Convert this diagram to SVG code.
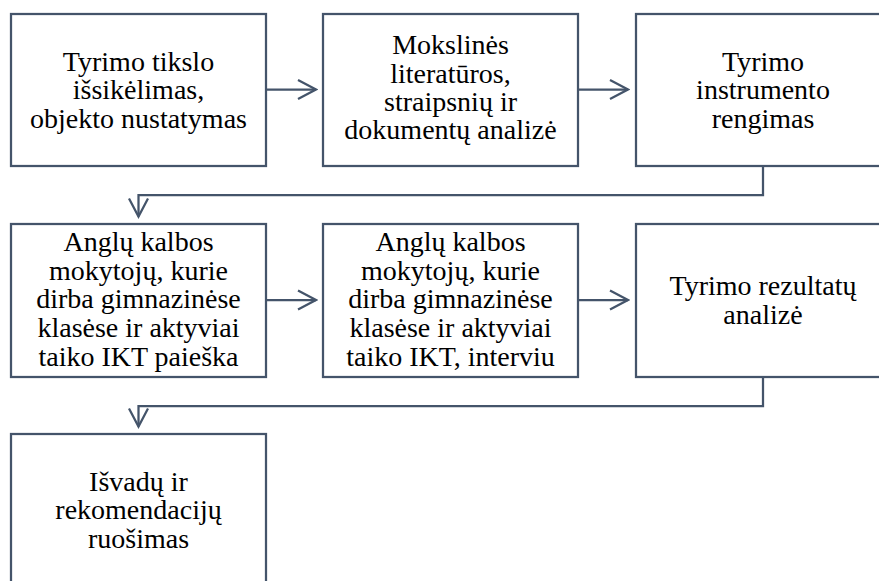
<svg xmlns="http://www.w3.org/2000/svg" width="879" height="581" viewBox="0 0 879 581">
<style>
.box{fill:#ffffff;stroke:#44546A;stroke-width:2.25}
.lbl{font-family:"Liberation Serif","Times New Roman",serif;font-size:28px;fill:#000000;text-anchor:middle}
.con{fill:none;stroke:#44546A;stroke-width:2.25;marker-end:url(#chev)}
</style>
<defs>
<marker id="chev" markerUnits="userSpaceOnUse" viewBox="-22 -12 24 24" markerWidth="24" markerHeight="24" refX="0" refY="0" orient="auto">
<path d="M-18,-9.5 L0,0 L-18,9.5" fill="none" stroke="#44546A" stroke-width="2.25"/>
</marker>
</defs>
<rect x="0" y="0" width="879" height="581" fill="#ffffff"/>
<g id="n1">
<rect class="box" x="11" y="14" width="255" height="152"/>
<text class="lbl" x="138.5" y="70.5">Tyrimo tikslo</text>
<text class="lbl" x="138.5" y="99">išsikėlimas,</text>
<text class="lbl" x="138.5" y="127.5">objekto nustatymas</text>
</g>
<g id="n2">
<rect class="box" x="323" y="14" width="255" height="152"/>
<text class="lbl" x="450.5" y="54">Mokslinės</text>
<text class="lbl" x="450.5" y="82.5">literatūros,</text>
<text class="lbl" x="450.5" y="110.5">straipsnių ir</text>
<text class="lbl" x="450.5" y="138.5">dokumentų analizė</text>
</g>
<g id="n3">
<rect class="box" x="636" y="14" width="255" height="152"/>
<text class="lbl" x="763" y="70.5">Tyrimo</text>
<text class="lbl" x="763" y="99">instrumento</text>
<text class="lbl" x="763" y="127.5">rengimas</text>
</g>
<g id="n4">
<rect class="box" x="11" y="224" width="255" height="153"/>
<text class="lbl" x="138.5" y="251">Anglų kalbos</text>
<text class="lbl" x="138.5" y="279.5">mokytojų, kurie</text>
<text class="lbl" x="138.5" y="308">dirba gimnazinėse</text>
<text class="lbl" x="138.5" y="337">klasėse ir aktyviai</text>
<text class="lbl" x="138.5" y="365.5">taiko IKT paieška</text>
</g>
<g id="n5">
<rect class="box" x="323" y="224" width="255" height="153"/>
<text class="lbl" x="450.5" y="251">Anglų kalbos</text>
<text class="lbl" x="450.5" y="279.5">mokytojų, kurie</text>
<text class="lbl" x="450.5" y="308">dirba gimnazinėse</text>
<text class="lbl" x="450.5" y="337">klasėse ir aktyviai</text>
<text class="lbl" x="450.5" y="365.5">taiko IKT, interviu</text>
</g>
<g id="n6">
<rect class="box" x="636" y="224" width="255" height="153"/>
<text class="lbl" x="763" y="294.5">Tyrimo rezultatų</text>
<text class="lbl" x="763" y="323.5">analizė</text>
</g>
<g id="n7">
<rect class="box" x="11" y="434" width="255" height="200"/>
<text class="lbl" x="138.5" y="490.5">Išvadų ir</text>
<text class="lbl" x="138.5" y="519">rekomendacijų</text>
<text class="lbl" x="138.5" y="547.5">ruošimas</text>
</g>
<g id="connectors">
<path class="con" d="M266,89.5 L316,89.5"/>
<path class="con" d="M578,89.5 L628,89.5"/>
<path class="con" d="M763,166 V195 H138.5 V216.5"/>
<path class="con" d="M266,300 L316,300"/>
<path class="con" d="M578,300 L628,300"/>
<path class="con" d="M763,377 V406 H138.5 V426.5"/>
</g>
</svg>
